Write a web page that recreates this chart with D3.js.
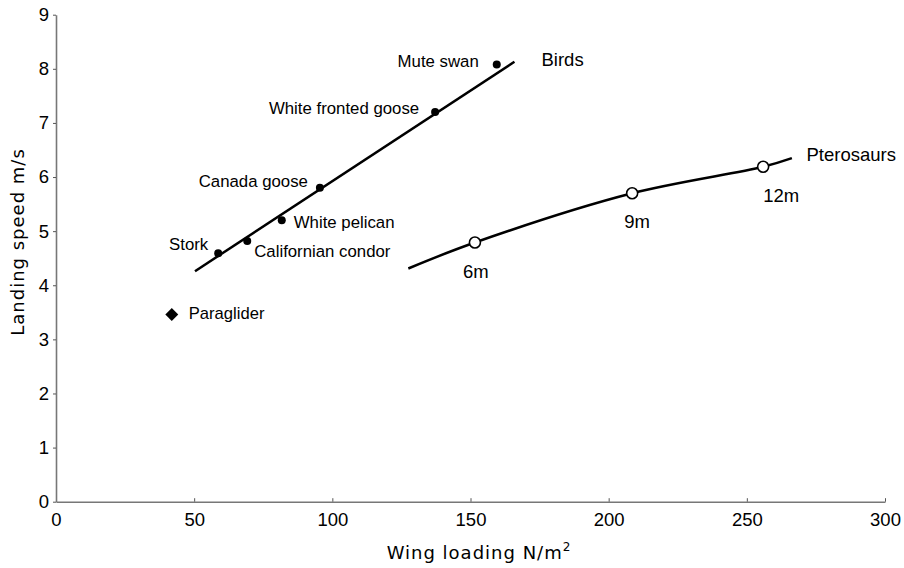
<!DOCTYPE html>
<html>
<head>
<meta charset="utf-8">
<script src="https://cdn.jsdelivr.net/npm/d3@7"></script>
<style>
  html, body { margin: 0; padding: 0; background: #fff; }
  svg { display: block; }
  .lbl { font-family: "Liberation Sans", Arial, Helvetica, sans-serif; fill: #000; }
  .title { font-family: "DejaVu Sans", Verdana, sans-serif; font-size: 18px; letter-spacing: 1px; fill: #000; }
</style>
</head>
<body>
<svg id="chart" width="904" height="568"></svg>
<script>
// Bird data (wing loading N/m2, landing speed m/s)
const birdNames = ["Mute swan", "White fronted goose", "Canada goose", "White pelican", "Californian condor", "Stork"];
const birdLoading = [159.5, 137.2, 95.5, 81.7, 69.2, 58.7];
const birdSpeed = [8.08, 7.20, 5.80, 5.20, 4.82, 4.59];

// Birds trend line endpoints
const birdLineX = [50.3, 165.9];
const birdLineY = [4.26, 8.13];

// Paraglider
const paraName = "Paraglider";
const paraLoading = 41.9;
const paraSpeed = 3.46;

// Pterosaur curve and wingspan points
const pteroCurveX = [127.5, 151.6, 208.5, 255.9, 266.3];
const pteroCurveY = [4.31, 4.79, 5.70, 6.19, 6.35];
const pteroNames = ["6m", "9m", "12m"];
const pteroLoading = [151.6, 208.5, 255.9];
const pteroSpeed = [4.79, 5.70, 6.19];

// Axis ticks
const xTicks = [0, 50, 100, 150, 200, 250, 300];
const yTicks = [0, 1, 2, 3, 4, 5, 6, 7, 8, 9];

const svg = d3.select("#chart");

const x = d3.scaleLinear().domain([0, 300]).range([56, 885]);
const y = d3.scaleLinear().domain([0, 9]).range([501.7, 14.7]);

// Axes
const axisColor = "#777";
const gx = svg.append("g")
  .attr("transform", `translate(0,${y(0)})`)
  .call(d3.axisBottom(x).tickValues(xTicks).tickSizeInner(-3.5).tickSizeOuter(0).tickPadding(14));
const gy = svg.append("g")
  .attr("transform", `translate(${x(0)},0)`)
  .call(d3.axisLeft(y).tickValues(yTicks).tickSizeInner(3).tickSizeOuter(0).tickPadding(4));

[gx, gy].forEach(g => {
  g.select(".domain").attr("stroke", axisColor).attr("stroke-width", 1.6);
  g.selectAll(".tick line").attr("stroke", "#555").attr("stroke-width", 1);
  g.selectAll(".tick text")
    .attr("class", "lbl")
    .style("font-size", "18.5px")
    .attr("fill", "#000");
});
gx.selectAll(".tick text").attr("dy", "0.55em");

// Axis titles
const xt = svg.append("text")
  .attr("class", "title")
  .attr("x", 479)
  .attr("y", 559)
  .attr("text-anchor", "middle")
  .text("Wing loading N/m");
xt.append("tspan").attr("dy", -8).style("font-size", "12px").text("2");

svg.append("text")
  .attr("class", "title")
  .attr("transform", `translate(24,${y(4.8)}) rotate(-90)`)
  .attr("text-anchor", "middle")
  .text("Landing speed m/s");

// Birds line
const line = d3.line().x(d => x(d[0])).y(d => y(d[1]));
svg.append("path")
  .datum(d3.zip(birdLineX, birdLineY))
  .attr("fill", "none")
  .attr("stroke", "#000")
  .attr("stroke-width", 2.5)
  .attr("d", line);

// Pterosaur curve
svg.append("path")
  .datum(d3.zip(pteroCurveX, pteroCurveY))
  .attr("fill", "none")
  .attr("stroke", "#000")
  .attr("stroke-width", 2.5)
  .attr("d", line.curve(d3.curveCatmullRom));

// Bird points
svg.selectAll("circle.bird")
  .data(d3.range(birdNames.length))
  .enter()
  .append("circle")
  .attr("class", "bird")
  .attr("cx", i => x(birdLoading[i]))
  .attr("cy", i => y(birdSpeed[i]))
  .attr("r", 4)
  .attr("fill", "#000");

// Bird labels: [dx, dy, anchor] relative to each point
const birdLabelPos = [
  [-18, 3, "end"],
  [-16, 2, "end"],
  [-12, -1, "end"],
  [12, 8, "start"],
  [7, 16, "start"],
  [-10, -3, "end"]
];
svg.selectAll("text.birdlbl")
  .data(d3.range(birdNames.length))
  .enter()
  .append("text")
  .attr("class", "lbl birdlbl")
  .style("font-size", "16.8px")
  .attr("x", i => x(birdLoading[i]) + birdLabelPos[i][0])
  .attr("y", i => y(birdSpeed[i]) + birdLabelPos[i][1])
  .attr("text-anchor", i => birdLabelPos[i][2])
  .text(i => birdNames[i]);

// Paraglider diamond
svg.append("path")
  .attr("d", d3.symbol(d3.symbolSquare, 84)())
  .attr("transform", `translate(${x(paraLoading)},${y(paraSpeed)}) rotate(45)`)
  .attr("fill", "#000");
svg.append("text")
  .attr("class", "lbl")
  .style("font-size", "16.6px")
  .attr("x", x(paraLoading) + 17)
  .attr("y", y(paraSpeed) + 4.5)
  .text(paraName);

// Pterosaur points
svg.selectAll("circle.ptero")
  .data(d3.range(pteroNames.length))
  .enter()
  .append("circle")
  .attr("class", "ptero")
  .attr("cx", i => x(pteroLoading[i]))
  .attr("cy", i => y(pteroSpeed[i]))
  .attr("r", 5.5)
  .attr("fill", "#fff")
  .attr("stroke", "#000")
  .attr("stroke-width", 1.6);

const pteroLabelDx = [1, 5, 18];
svg.selectAll("text.pterolbl")
  .data(d3.range(pteroNames.length))
  .enter()
  .append("text")
  .attr("class", "lbl pterolbl")
  .style("font-size", "18.5px")
  .attr("x", i => x(pteroLoading[i]) + pteroLabelDx[i])
  .attr("y", i => y(pteroSpeed[i]) + 35)
  .attr("text-anchor", "middle")
  .text(i => pteroNames[i]);

// Group labels
svg.append("text")
  .attr("class", "lbl")
  .style("font-size", "18.5px")
  .attr("x", 541.5)
  .attr("y", 65.5)
  .text("Birds");
svg.append("text")
  .attr("class", "lbl")
  .style("font-size", "18.5px")
  .attr("x", 806.5)
  .attr("y", 160.5)
  .text("Pterosaurs");
</script>
</body>
</html>
